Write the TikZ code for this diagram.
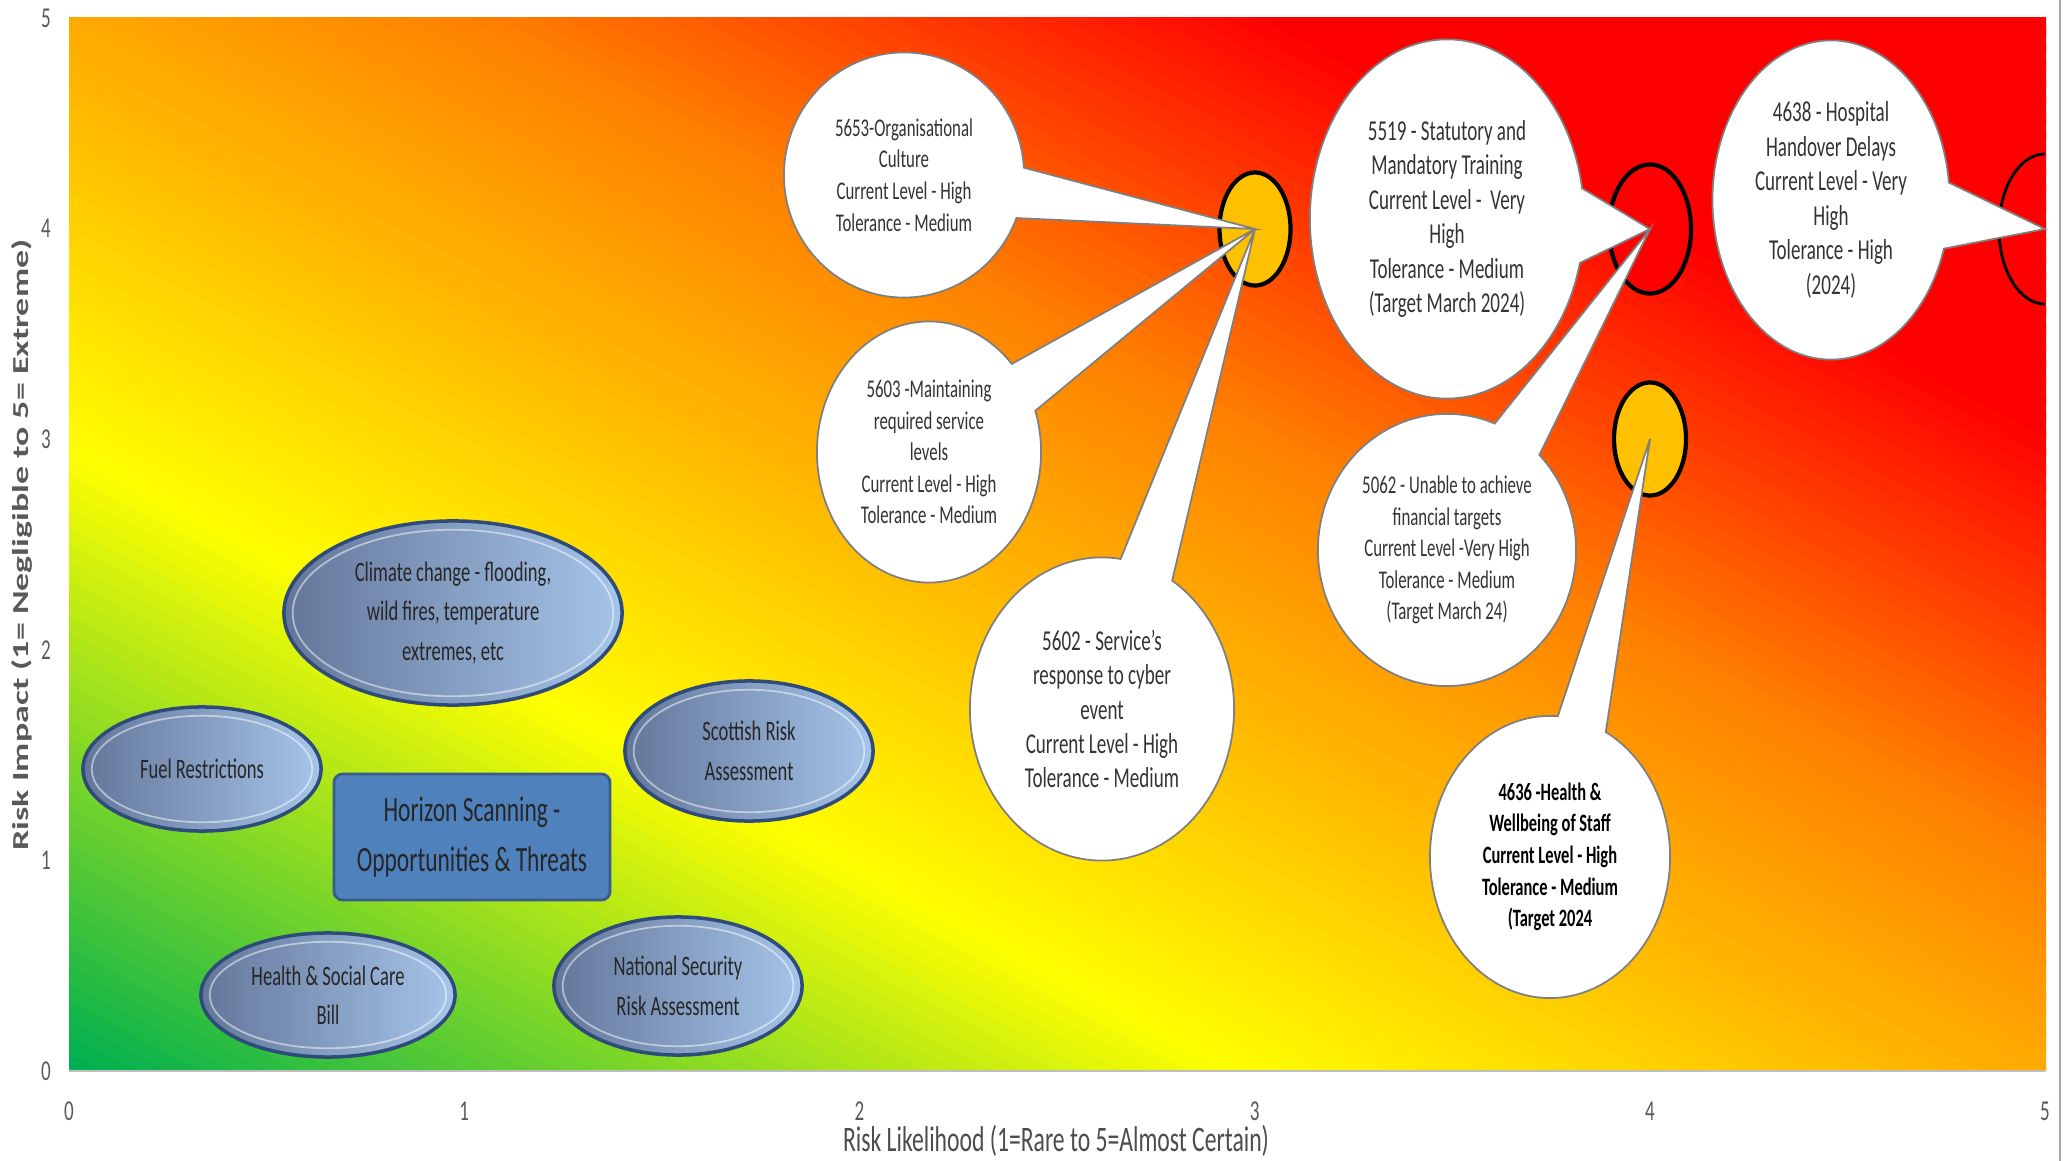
\documentclass[tikz,border=0pt]{standalone}
\usepackage{fontspec}
\setmainfont{Carlito}[FakeStretch=0.66]
\newfontfamily\ytitlefont{Carlito}[FakeStretch=1.57]
\usetikzlibrary{shapes.geometric,shapes.callouts,calc}

\definecolor{heatred}{HTML}{FF0000}
\definecolor{dotgold}{HTML}{FFC000}
\definecolor{callline}{HTML}{7F7F7F}
\definecolor{calltext}{HTML}{333333}
\definecolor{scanedge}{HTML}{2F4B7A}
\definecolor{scanleft}{HTML}{63769A}
\definecolor{scanright}{HTML}{A6C5E9}
\definecolor{horizonfill}{HTML}{4F81BD}
\definecolor{horizonedge}{HTML}{385D8A}
\definecolor{axisgray}{HTML}{595959}

\tikzset{
  ticklab/.style={text=axisgray, font=\fontsize{8.2}{9.8}\selectfont},
  riskdot/.style={ellipse, draw=black, line width=1.2pt, inner sep=0pt},
  riskcall/.style={ellipse callout, callout pointer arc=24, draw=callline, line width=.5pt, fill=white, inner sep=0pt, align=center, text=calltext},
  smallcall/.style={riskcall, font=\fontsize{7.25}{9}\selectfont},
  bigcall/.style={riskcall, font=\fontsize{8.2}{9.8}\selectfont},
  scanoval/.style={ellipse, draw=scanedge, line width=1pt, left color=scanleft, right color=scanright, inner sep=0pt, align=center, font=\fontsize{8}{11.2}\selectfont, text=black!85,
    path picture={\draw[white, opacity=.5, line width=.5pt]
      let \p1=($(path picture bounding box.north east)-(path picture bounding box.center)$) in
      (path picture bounding box.center) ellipse [x radius={\x1-2.5pt}, y radius={\y1-2.5pt}];}},
}

\begin{document}
\begin{tikzpicture}[x=0.01cm, y=-0.01cm]
\useasboundingbox (0,0) rectangle (2067,1161);
% heat map: colour bands along the diagonal, green -> yellow -> orange -> red
\begin{scope}[shift={(69,1071)}, x=19.76cm, y=10.53cm]
\clip (0,0) rectangle (1,1);
\foreach \i in {0,...,119} {
  \pgfmathsetmacro\bandt{\i/120}
  \pgfmathtruncatemacro\bandr{min(255,255*\bandt/0.29)}
  \pgfmathtruncatemacro\bandg{\bandt<0.29 ? 176+79*\bandt/0.29 : (\bandt<0.44 ? 255-63*(\bandt-0.29)/0.15 : (\bandt<0.6 ? 192-64*(\bandt-0.44)/0.16 : max(0,128-128*(\bandt-0.6)/0.2)))}
  \pgfmathtruncatemacro\bandb{max(0,80-80*\bandt/0.29)}
  \definecolor{band}{RGB}{\bandr,\bandg,\bandb}
  \fill[band] ({2*\bandt},0) -- ({2*\bandt+0.025},0) -- (0,{2*\bandt+0.025}) -- (0,{2*\bandt}) -- cycle;
}
\end{scope}
\draw[black!25, line width=.4pt] (69,1071) -- (2045,1071);
\draw[black!35, line width=.6pt] (2060,0) -- (2060,1161);
\foreach \v in {0,...,5} {
  \node[ticklab] (xt\v) at ({69+395.2*\v},1111) {\v};
  \node[ticklab] (yt\v) at (46,{1071-210.6*\v}) {\v};
}
\node[text=black!70, font=\fontsize{10.2}{12}\selectfont] (xtitle) at (1056,1141) {Risk Likelihood (1=Rare to 5=Almost Certain)};
\node[text=axisgray, rotate=90, font=\ytitlefont\bfseries\fontsize{6.5}{8}\selectfont] (ytitle) at (22,545) {Risk Impact (1= Negligible to 5= Extreme)};

% risk markers
\node[riskdot, fill=dotgold, minimum width=.71cm, minimum height=1.13cm] (m34) at (1255,229) {};
\node[riskdot, fill=heatred, minimum width=.82cm, minimum height=1.29cm] (m44) at (1650,229) {};
\node[riskdot, fill=dotgold, minimum width=.72cm, minimum height=1.13cm] (m43) at (1650,439) {};
\begin{scope}
\clip (69,18) rectangle (2045,1071);
\node[riskdot, fill=heatred, line width=.8pt, minimum width=.92cm, minimum height=1.5cm] (m54) at (2045,229) {};
\end{scope}

% callouts
\node[smallcall, minimum width=2.40cm, minimum height=2.45cm, callout absolute pointer={(m34.center)}] (r5653) at (904,175) {5653-Organisational\\Culture\\Current Level - High\\Tolerance - Medium};
\node[smallcall, minimum width=2.24cm, minimum height=2.61cm, callout absolute pointer={(m34.center)}] (r5603) at (929,452) {5603 -Maintaining\\required service\\levels\\Current Level - High\\Tolerance - Medium};
\node[bigcall, minimum width=2.64cm, minimum height=3.03cm, callout absolute pointer={(m34.center)}] (r5602) at (1102,709) {5602 - Service's\\response to cyber\\event\\Current Level - High\\Tolerance - Medium};
\node[bigcall, minimum width=2.74cm, minimum height=3.59cm, callout absolute pointer={(m44.center)}] (r5519) at (1447,219) {5519 - Statutory and\\Mandatory Training\\Current Level -\ \ Very\\High\\Tolerance - Medium\\(Target March 2024)};
\node[smallcall, minimum width=2.58cm, minimum height=2.72cm, callout absolute pointer={(m44.center)}] (r5062) at (1447,550) {5062 - Unable to achieve\\financial targets\\Current Level -Very High\\Tolerance - Medium\\(Target March 24)};
\node[bigcall, minimum width=2.37cm, minimum height=3.19cm, callout absolute pointer={(m54.center)}] (r4638) at (1831,200) {4638 - Hospital\\Handover Delays\\Current Level - Very\\High\\Tolerance - High\\(2024)};
\node[smallcall, text=black, font=\bfseries\fontsize{7.1}{9}\selectfont, minimum width=2.40cm, minimum height=2.82cm, callout absolute pointer={(m43.center)}] (r4636) at (1550,857) {4636 -Health \&\\Wellbeing of Staff\\Current Level - High\\Tolerance - Medium\\(Target 2024};

% horizon scanning group
\node[scanoval, minimum width=3.38cm, minimum height=1.84cm] (climate) at (453,613) {Climate change - flooding,\\wild fires, temperature\\extremes, etc};
\node[scanoval, minimum width=2.38cm, minimum height=1.24cm] (fuel) at (202,769) {Fuel Restrictions};
\node[scanoval, minimum width=2.48cm, minimum height=1.40cm] (scottish) at (749,751) {Scottish Risk\\Assessment};
\node[scanoval, minimum width=2.54cm, minimum height=1.24cm] (hscb) at (328,995) {Health \& Social Care\\Bill};
\node[scanoval, minimum width=2.48cm, minimum height=1.38cm] (nsra) at (678,986) {National Security\\Risk Assessment};
\node[draw=horizonedge, fill=horizonfill, line width=.8pt, rounded corners=2.5pt, minimum width=2.76cm, minimum height=1.26cm, align=center, font=\fontsize{10.1}{14.2}\selectfont, text=black!85] (horizon) at (472,837) {Horizon Scanning -\\Opportunities \& Threats};
\end{tikzpicture}
\end{document}
